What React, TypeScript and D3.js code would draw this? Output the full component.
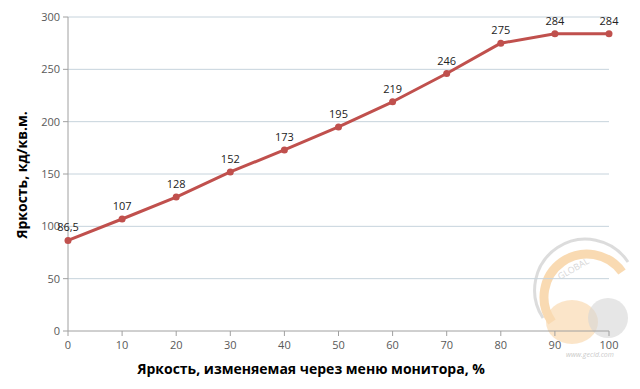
import React from "react";
import * as d3 from "d3";

const xValues = [0, 10, 20, 30, 40, 50, 60, 70, 80, 90, 100];
const yValues = [86.5, 107, 128, 152, 173, 195, 219, 246, 275, 284, 284];
const pointLabels = ["86,5", "107", "128", "152", "173", "195", "219", "246", "275", "284", "284"];
const xTicks = [0, 10, 20, 30, 40, 50, 60, 70, 80, 90, 100];
const yTicks = [0, 50, 100, 150, 200, 250, 300];
const xTitle = "Яркость, изменяемая через меню монитора, %";
const yTitle = "Яркость, кд/кв.м.";

const W = 640;
const H = 389;
const FONT = "'Open Sans', 'Noto Sans', sans-serif";

export default function App() {
  const x = d3.scaleLinear().domain([0, 100]).range([68, 609]);
  const y = d3.scaleLinear().domain([0, 300]).range([331, 17]);
  const pts = xValues.map((v, i) => [v, yValues[i]] as [number, number]);
  const line = d3.line<[number, number]>().x((d) => x(d[0])).y((d) => y(d[1]))(pts) || "";

  return (
    <svg width={W} height={H} style={{ position: "absolute", left: 0, top: 0, background: "#fff" }} fontFamily={FONT}>
      <rect width={W} height={H} fill="#fff" />
      {/* watermark */}
      <g opacity={0.4}>
        <path d="M 543 318 A 50 50 0 0 1 628 262" fill="none" stroke="#aaa" strokeWidth={3} />
        <path d="M 552 322 A 42 42 0 0 1 622 272" fill="none" stroke="#f2a541" strokeWidth={9} />
        <ellipse cx={572} cy={322} rx={26} ry={22} fill="#f2a541" opacity={0.7} />
        <ellipse cx={608} cy={318} rx={20} ry={20} fill="#999" opacity={0.6} />
        <text x={560} y={280} fontSize={9} fill="#999" transform="rotate(-30 560 280)">GLOBAL</text>
        <text x={590} y={357} fontSize={7} fill="#777" textAnchor="middle" fontStyle="italic">www.gecid.com</text>
      </g>
      {/* gridlines */}
      {yTicks.filter((t) => t > 0).map((t) => (
        <line key={"g" + t} x1={x(0)} x2={x(100)} y1={y(t)} y2={y(t)} stroke="#c6d3dc" strokeWidth={1} />
      ))}
      {/* axes */}
      <line x1={x(0)} x2={x(0)} y1={y(0)} y2={y(300)} stroke="#a0a0a0" />
      <line x1={x(0)} x2={x(100)} y1={y(0)} y2={y(0)} stroke="#a0a0a0" />
      {yTicks.map((t) => (
        <g key={"y" + t}>
          <line x1={x(0) - 5} x2={x(0)} y1={y(t)} y2={y(t)} stroke="#a0a0a0" />
          <text x={x(0) - 8} y={y(t)} dy="0.35em" textAnchor="end" fontSize={11} fill="#595959">{t}</text>
        </g>
      ))}
      {xTicks.map((t) => (
        <g key={"x" + t}>
          <line x1={x(t)} x2={x(t)} y1={y(0)} y2={y(0) + 5} stroke="#a0a0a0" />
          <text x={x(t)} y={y(0) + 18} textAnchor="middle" fontSize={11} fill="#595959">{t}</text>
        </g>
      ))}
      {/* line */}
      <path d={line} fill="none" stroke="#c0504d" strokeWidth={3} strokeLinejoin="round" />
      {pts.map((p, i) => (
        <circle key={"c" + i} cx={x(p[0])} cy={y(p[1])} r={3.5} fill="#c0504d" />
      ))}
      {pts.map((p, i) => (
        <text key={"l" + i} x={x(p[0])} y={y(p[1]) - 9} textAnchor="middle" fontSize={11} fill="#222">{pointLabels[i]}</text>
      ))}
      {/* titles */}
      <text x={311} y={374} textAnchor="middle" fontSize={14} fontWeight="bold" fill="#000">{xTitle}</text>
      <text transform={`translate(27,175) rotate(-90)`} textAnchor="middle" fontSize={14} fontWeight="bold" fill="#000">{yTitle}</text>
    </svg>
  );
}
